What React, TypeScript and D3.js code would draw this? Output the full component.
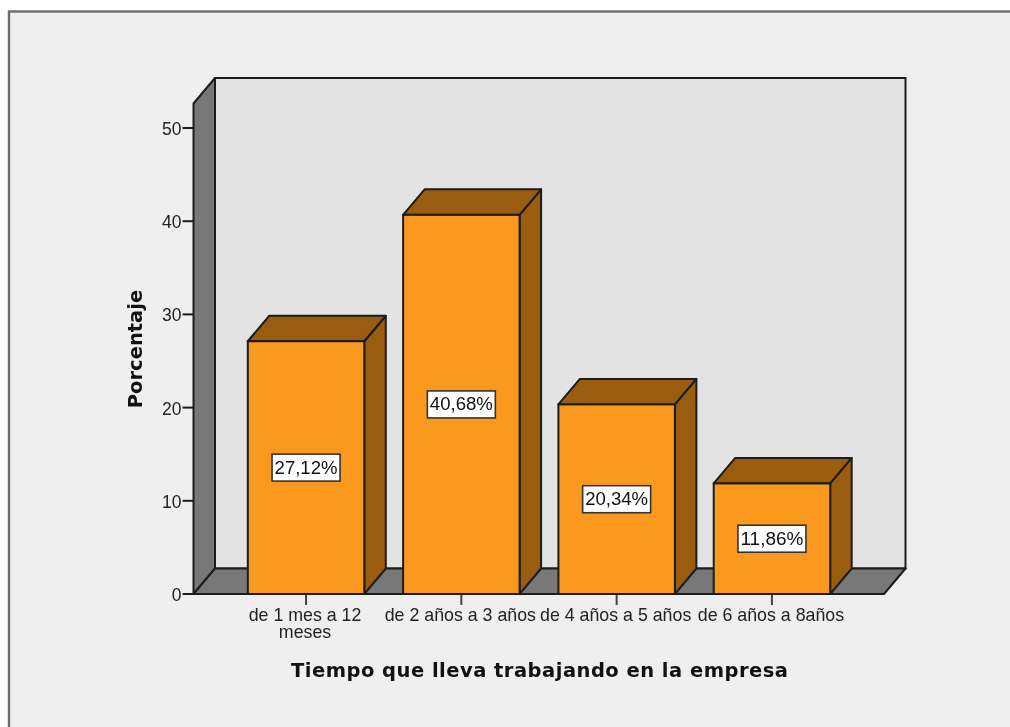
import React from "react";
import * as d3 from "d3";

const categories = ["de 1 mes a 12 meses", "de 2 años a 3 años", "de 4 años a 5 años", "de 6 años a 8años"];
const categoryLines = [["de 1 mes a 12", "meses"], ["de 2 años a 3 años"], ["de 4 años a 5 años"], ["de 6 años a 8años"]];
const percentages = [27.12, 40.68, 20.34, 11.86];
const barLabels = ["27,12%", "40,68%", "20,34%", "11,86%"];
const yTicks = [0, 10, 20, 30, 40, 50];
const xTitle = "Tiempo que lleva trabajando en la empresa";
const yTitle = "Porcentaje";

const W = 1010, H = 727;
const DX = 21.5, DY = -25.5;
const axisX0 = 193.5, axisX1 = 884;
const stroke = "#1c1c1c";
const sans = "'Liberation Sans', Arial, sans-serif";
const bold = "'DejaVu Sans', Verdana, sans-serif";

const y = d3.scaleLinear().domain([0, 50]).range([594, 128]);
const x = d3.scaleBand<string>().domain(categories).range([228.4, 849.6]).paddingInner(0.25).paddingOuter(0.125);
const yTopFront = 103.5;

const poly = (pts: [number, number][]) => d3.line()(pts) + "Z";

export default function App() {
  const y0 = y(0);
  return (
    <svg width={W} height={H} viewBox={`0 0 ${W} ${H}`} style={{ position: "absolute", left: 0, top: 0, filter: "blur(0.4px)" }}>
      <rect width={W} height={H} fill="#fff" />
      <rect x={9} y={11.5} width={W + 10} height={H + 10} fill="#efefef" stroke="#6e6e6e" strokeWidth={2.4} />
      {/* back wall */}
      <rect x={axisX0 + DX} y={yTopFront + DY} width={axisX1 - axisX0} height={y0 - yTopFront} fill="#e3e3e3" stroke={stroke} strokeWidth={2} />
      {/* left wall */}
      <path d={poly([[axisX0, y0], [axisX0, yTopFront], [axisX0 + DX, yTopFront + DY], [axisX0 + DX, y0 + DY]])} fill="#787878" stroke={stroke} strokeWidth={2} strokeLinejoin="round" />
      {/* floor */}
      <path d={poly([[axisX0, y0], [axisX1, y0], [axisX1 + DX, y0 + DY], [axisX0 + DX, y0 + DY]])} fill="#787878" stroke={stroke} strokeWidth={2} strokeLinejoin="round" />
      {/* y axis */}
      {yTicks.map((t) => (
        <g key={t}>
          <line x1={axisX0 - 11} x2={axisX0} y1={y(t)} y2={y(t)} stroke={stroke} strokeWidth={2} />
          <text x={axisX0 - 12} y={y(t) + 7} textAnchor="end" fontFamily={sans} fontSize={17.5} fill="#222">{t}</text>
        </g>
      ))}
      {/* bars */}
      {categories.map((c, i) => {
        const x0 = x(c)!, w = x.bandwidth(), top = y(percentages[i]), x1 = x0 + w;
        const cx = x0 + w / 2, cy = (top + y0) / 2;
        return (
          <g key={c}>
            <line x1={cx} x2={cx} y1={y0} y2={y0 + 11} stroke="#444" strokeWidth={2} />
            <path d={poly([[x1, y0], [x1, top], [x1 + DX, top + DY], [x1 + DX, y0 + DY]])} fill="#9a5d10" stroke={stroke} strokeWidth={2} strokeLinejoin="round" />
            <path d={poly([[x0, top], [x1, top], [x1 + DX, top + DY], [x0 + DX, top + DY]])} fill="#9a5d10" stroke={stroke} strokeWidth={2} strokeLinejoin="round" />
            <rect x={x0} y={top} width={w} height={y0 - top} fill="#fb991f" stroke={stroke} strokeWidth={2} />
            <rect x={cx - 34} y={cy - 13.5} width={68} height={27} fill="#fff" stroke="#333" strokeWidth={1.6} />
            <text x={cx} y={cy + 6} textAnchor="middle" fontFamily={sans} fontSize={18} fill="#111" textLength={63} lengthAdjust="spacingAndGlyphs">{barLabels[i]}</text>
            {categoryLines[i].map((l, k) => (
              <text key={k} x={cx - 1} y={621 + k * 17} textAnchor="middle" fontFamily={sans} fontSize={17.8} fill="#222">{l}</text>
            ))}
          </g>
        );
      })}
      <text x={539.5} y={677} textAnchor="middle" fontFamily={bold} fontWeight={700} fontSize={19.5} fill="#111" textLength={497} lengthAdjust="spacing">{xTitle}</text>
      <text transform="translate(142,349) rotate(-90)" textAnchor="middle" fontFamily={bold} fontWeight={700} fontSize={19.5} fill="#111">{yTitle}</text>
    </svg>
  );
}
